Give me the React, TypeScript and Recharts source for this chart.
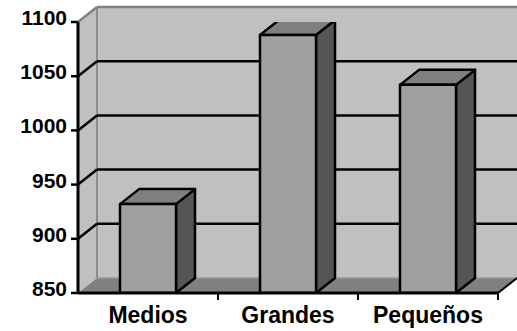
import React from 'react';
import { BarChart, Bar, XAxis, YAxis, CartesianGrid, ReferenceArea } from 'recharts';

const categories = ['Medios', 'Grandes', 'Pequeños'];
const values = [932, 1088, 1042];
const yTicks = [850, 900, 950, 1000, 1050, 1100];

const chartData = categories.map((name, i) => ({ name, value: values[i] }));

// depth of the fake 3D box (right and up)
const DX = 19;
const DY = 15;
const FONT = '"Liberation Sans", Arial, sans-serif';

// back wall, left wall and floor, drawn from the plot rectangle
const Walls = (props: any) => {
  const { x, y, width, height } = props;
  const b = y + height;
  const r = x + width;
  return (
    <g>
      <polygon points={`${x},${y} ${x + DX},${y - DY} ${x + DX},${b - DY} ${x},${b}`} fill="#c0c0c0" />
      <rect x={x + DX} y={y - DY} width={width} height={height} fill="#c0c0c0" />
      <polygon points={`${x},${b} ${x + DX},${b - DY} ${r + DX},${b - DY} ${r},${b}`} fill="#808080" />
      <line x1={x + DX} y1={b - DY} x2={r + DX} y2={b - DY} stroke="#9a9a9a" strokeWidth={1.5} />
      <line x1={x + DX} y1={y - DY} x2={r + DX} y2={y - DY} stroke="#808080" strokeWidth={2.5} />
      <line x1={x + DX} y1={y - DY} x2={x + DX} y2={b - DY} stroke="#8c8c8c" strokeWidth={2} />
      <line x1={x} y1={y} x2={x + DX} y2={y - DY} stroke="#808080" strokeWidth={2.5} />
      <line x1={r} y1={b} x2={r + DX} y2={b - DY} stroke="#000" strokeWidth={2} />
    </g>
  );
};

// grid lines sit on the back wall, joined to the front axis by a diagonal
const GridLine = (props: any) => {
  const { x1, x2, y1, y, height } = props;
  if (Math.abs(y1 - y) < 0.5 || Math.abs(y1 - (y + height)) < 0.5) return <g />;
  return (
    <g>
      <line x1={x1} y1={y1} x2={x1 + DX} y2={y1 - DY} stroke="#000" strokeWidth={2.5} />
      <line x1={x1 + DX} y1={y1 - DY} x2={x2 + DX} y2={y1 - DY} stroke="#000" strokeWidth={2.5} />
    </g>
  );
};

const Box = (props: any) => {
  const { x, y, width: w, height: h } = props;
  if (w == null || h == null) return null;
  const top = `${x},${y} ${x + DX},${y - DY} ${x + w + DX},${y - DY} ${x + w},${y}`;
  const side = `${x + w},${y} ${x + w + DX},${y - DY} ${x + w + DX},${y + h - DY} ${x + w},${y + h}`;
  return (
    <g stroke="#000" strokeWidth={2.5} strokeLinejoin="round">
      <polygon points={side} fill="#555555" />
      <polygon points={top} fill="#808080" />
      <rect x={x} y={y} width={w} height={h} fill="#a0a0a0" />
    </g>
  );
};

const CategoryTick = (props: any) => {
  const { x, y, payload, width, visibleTicksCount } = props;
  const half = (width ?? 420) / (visibleTicksCount || categories.length) / 2;
  const axisY = 293;
  return (
    <g>
      <line x1={x + half} y1={axisY} x2={x + half} y2={axisY + 7} stroke="#000" strokeWidth={2} />
      <text x={x} y={y + 22} textAnchor="middle" fontFamily={FONT} fontWeight="bold" fontSize={23} fill="#000">
        {payload.value}
      </text>
    </g>
  );
};

const ValueTick = (props: any) => {
  const { x, y, payload } = props;
  return (
    <text x={x} y={y} dy={3} textAnchor="end" fontFamily={FONT} fontWeight="bold" fontSize={21} fill="#000">
      {payload.value}
    </text>
  );
};

export default function App() {
  return (
    <div style={{ position: 'absolute', left: 0, top: 0, width: 517, height: 331, background: '#fff' }}>
      <BarChart
        width={517}
        height={331}
        data={chartData}
        margin={{ top: 22, right: DX, left: 0, bottom: 0 }}
        barSize={56}
      >
        <ReferenceArea y1={850} y2={1100} shape={Walls} zIndex={-200} ifOverflow="visible" />
        <CartesianGrid vertical={false} horizontal={GridLine} />
        <XAxis
          dataKey="name"
          height={38}
          axisLine={{ stroke: '#000', strokeWidth: 3 }}
          tickLine={false}
          tick={CategoryTick}
          interval={0}
        />
        <YAxis
          width={78}
          domain={[850, 1100]}
          ticks={yTicks}
          allowDataOverflow
          axisLine={{ stroke: '#000', strokeWidth: 3 }}
          tickLine={{ stroke: '#000', strokeWidth: 2.5 }}
          tickSize={7}
          tickMargin={4}
          tick={ValueTick}
        />
        <Bar dataKey="value" shape={Box} isAnimationActive={false} />
      </BarChart>
    </div>
  );
}
